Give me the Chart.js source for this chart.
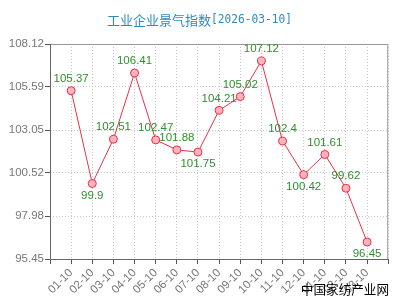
<!DOCTYPE html>
<html><head><meta charset="utf-8">
<script src="https://cdn.jsdelivr.net/npm/chart.js@4"></script>
<style>html,body{margin:0;padding:0;background:#fff}#wrap{width:400px;height:300px}</style>
</head><body><div id="wrap"><canvas id="c" width="400" height="300"></canvas></div>
<script>
const titleMain = '工业企业景气指数';
const titleDate = '[2026-03-10]';
const watermark = '中国家纺产业网';
const categories = ['01-10','02-10','03-10','04-10','05-10','06-10','07-10','08-10','09-10','10-10','11-10','12-10','01-10','02-10','03-10'];
const values = [105.37,99.9,102.51,106.41,102.47,101.88,101.75,104.21,105.02,107.12,102.4,100.42,101.61,99.62,96.45];
const yTicks = [95.45,97.98,100.52,103.05,105.59,108.12];

const labels = [''].concat(categories, ['']);
const data = [null].concat(values, [null]);

const FONT = '"Liberation Sans", Arial, sans-serif';

const deco = {
  id: 'deco',
  afterDatasetsDraw(chart) {
    const ctx = chart.ctx, a = chart.chartArea;
    ctx.save();
    ctx.setLineDash([]);
    ctx.strokeStyle = '#999'; ctx.lineWidth = 1;
    ctx.beginPath();
    ctx.moveTo(a.left + 0.5, a.top + 0.5); ctx.lineTo(a.right - 0.5, a.top + 0.5); ctx.lineTo(a.right - 0.5, a.bottom);
    ctx.stroke();
    ctx.strokeStyle = '#666';
    ctx.beginPath();
    ctx.moveTo(a.left + 0.5, a.top); ctx.lineTo(a.left + 0.5, a.bottom + 0.5); ctx.lineTo(a.right, a.bottom + 0.5);
    ctx.stroke();
    const meta = chart.getDatasetMeta(0);
    ctx.font = '11.5px ' + FONT;
    ctx.fillStyle = '#2f8f2f';
    ctx.textAlign = 'center'; ctx.textBaseline = 'middle';
    meta.data.forEach((pt, i) => {
      const v = data[i];
      if (v == null) return;
      const prev = data[i - 1], next = data[i + 1];
      const below = (prev == null || v < prev) && (next == null || v < next);
      ctx.fillText(String(v), pt.x, pt.y + (below ? 12 : -12));
    });
    ctx.restore();
  },
  afterDraw(chart) {
    const ctx = chart.ctx;
    ctx.save();
    ctx.fillStyle = '#2a8cc4';
    ctx.textBaseline = 'middle'; ctx.textAlign = 'left';
    ctx.font = '13px "Noto Sans CJK SC", sans-serif';
    ctx.fillText(titleMain, 107, 20, 104);
    ctx.font = '11.5px "DejaVu Sans Mono", "Liberation Mono", monospace';
    ctx.fillText(titleDate, 211, 20, 81);
    ctx.font = '12.6px "Noto Sans CJK SC", sans-serif';
    ctx.fillStyle = '#000';
    ctx.textAlign = 'right';
    ctx.fillText(watermark, 389, 289);
    ctx.restore();
  }
};

new Chart(document.getElementById('c'), {
  type: 'line',
  data: {
    labels: labels,
    datasets: [{
      data: data,
      borderColor: '#e8304a',
      borderWidth: 1,
      backgroundColor: '#ffb3bb',
      pointBackgroundColor: '#ffb3bb',
      pointBorderColor: '#e8304a',
      pointBorderWidth: 1,
      pointRadius: 4,
      tension: 0,
      spanGaps: false
    }]
  },
  options: {
    responsive: false,
    animation: false,
    devicePixelRatio: 1,
    layout: { padding: { top: 44, right: 1, left: 0, bottom: 0 } },
    plugins: { legend: { display: false }, title: { display: false }, tooltip: { enabled: false } },
    scales: {
      x: {
        offset: false,
        grid: { color: '#c8c8c8', tickColor: '#555', tickLength: 5, tickBorderDash: [] },
        border: { display: false, dash: [1, 2] },
        ticks: { color: '#777', font: { size: 11.5, family: FONT }, minRotation: 45, maxRotation: 45, autoSkip: false, padding: 2 },
        afterFit(s) { s.height = 41; }
      },
      y: {
        min: 95.45, max: 108.12,
        afterBuildTicks(s) { s.ticks = yTicks.map(v => ({ value: v })); },
        grid: { color: '#c8c8c8', tickColor: '#555', tickLength: 5, tickBorderDash: [] },
        border: { display: false, dash: [1, 2] },
        ticks: { color: '#777', font: { size: 11.5, family: FONT }, padding: 1, callback: v => Number(v).toFixed(2) },
        afterFit(s) { s.width = 50; }
      }
    }
  },
  plugins: [deco]
});
</script></body></html>
